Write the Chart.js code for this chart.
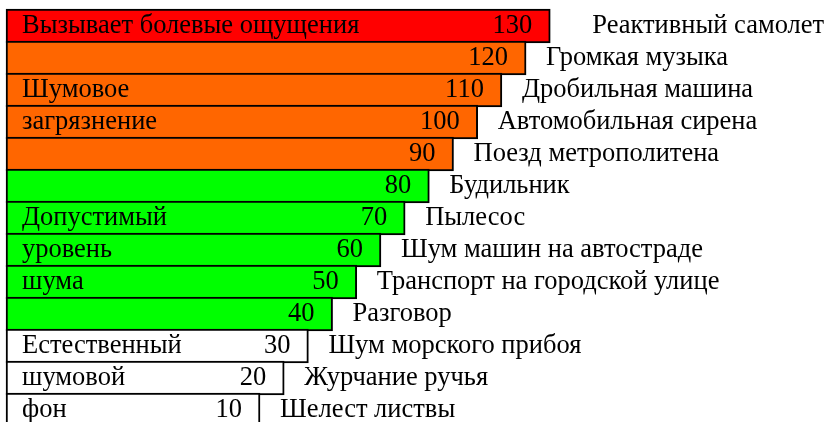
<!DOCTYPE html>
<html>
<head>
<meta charset="utf-8">
<script src="https://cdn.jsdelivr.net/npm/chart.js@4/dist/chart.umd.min.js"></script>
<style>
  html, body { margin: 0; padding: 0; background: #fff; overflow: hidden; }
</style>
</head>
<body>
<canvas id="noiseChart" width="826" height="440"></canvas>
<script>
// sources of noise, top to bottom
const sources = [
  "Реактивный самолет", "Громкая музыка", "Дробильная машина", "Автомобильная сирена",
  "Поезд метрополитена", "Будильник", "Пылесос", "Шум машин на автостраде",
  "Транспорт на городской улице", "Разговор", "Шум морского прибоя",
  "Журчание ручья", "Шелест листвы"
];
// level, dB
const levels = [130, 120, 110, 100, 90, 80, 70, 60, 50, 40, 30, 20, 10];
// zone captions written inside the bars
const zoneText = [
  "Вызывает болевые ощущения", "", "Шумовое", "загрязнение", "",
  "", "Допустимый", "уровень", "шума", "",
  "Естественный", "шумовой", "фон"
];

const FONT = "26.5px 'Liberation Serif', 'Times New Roman', serif";
const AXIS_START = -95;

function zoneColor(v) {
  if (v >= 130) return "#ff0000";
  if (v >= 90) return "#ff6600";
  if (v >= 40) return "#00ff00";
  return "#ffffff";
}

const barText = {
  id: "barText",
  afterDatasetsDraw(chart) {
    const ctx = chart.ctx;
    const bars = chart.getDatasetMeta(0).data;
    ctx.save();
    ctx.font = FONT;
    ctx.fillStyle = "#000";
    ctx.textBaseline = "alphabetic";
    bars.forEach((bar, i) => {
      const y = bar.y + 7;
      ctx.textAlign = "left";
      if (zoneText[i]) ctx.fillText(zoneText[i], 22, y);
      ctx.fillText(sources[i], bar.x + (i === 0 ? 42 : 20), y);
      ctx.textAlign = "right";
      ctx.fillText(String(levels[i]), bar.x - 18, y);
    });
    ctx.restore();
  }
};

new Chart(document.getElementById("noiseChart"), {
  type: "bar",
  data: {
    labels: sources,
    datasets: [{
      data: levels,
      base: AXIS_START,
      backgroundColor: levels.map(zoneColor),
      borderColor: "#000",
      borderWidth: 2,
      borderSkipped: false,
      barThickness: 34,
      clip: false
    }]
  },
  options: {
    indexAxis: "y",
    responsive: false,
    animation: false,
    layout: { padding: { top: 10, bottom: 14, left: 0, right: 0 } },
    plugins: { legend: { display: false }, tooltip: { enabled: false } },
    scales: {
      x: { display: false, min: -97.5, max: 244 },
      y: { display: false }
    }
  },
  plugins: [barText]
});
</script>
</body>
</html>
